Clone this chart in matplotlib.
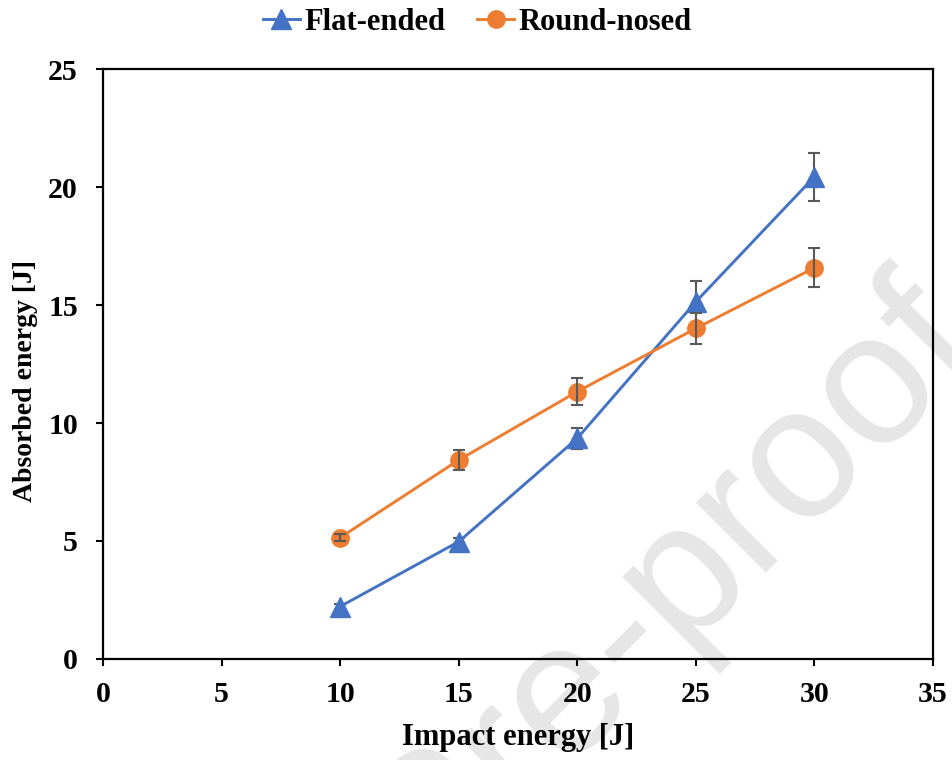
import matplotlib.pyplot as plt

impact = [10, 15, 20, 25, 30]
flat = [2.22, 4.97, 9.35, 15.14, 20.44]
flat_err = [0.1, 0.15, 0.45, 0.9, 1.02]
rnd = [5.14, 8.43, 11.33, 14.01, 16.58]
rnd_err = [0.15, 0.41, 0.56, 0.64, 0.83]

plt.rcParams['font.family'] = ['Liberation Serif', 'DejaVu Serif']
plt.rcParams['font.weight'] = 'bold'

fig = plt.figure(figsize=(9.53, 7.6), dpi=100)
ax = fig.add_axes([0.108, 0.133, 0.871, 0.776])
ax.patch.set_alpha(0)

# watermark behind the plot
fig.text(1.035, 0.536, 'Journal Pre-proof', fontsize=135, color='#e6e6e6',
         family='Liberation Sans', weight='normal', rotation=45,
         rotation_mode='anchor', ha='right', va='baseline', zorder=-1)

blue = '#4472C4'
orange = '#ED7D31'
ecol = '#595959'

ax.errorbar(impact, flat, yerr=flat_err, fmt='none', ecolor=ecol, elinewidth=1.5,
            capsize=4, capthick=1.5, zorder=2)
ax.plot(impact, flat, color=blue, lw=2.1, marker='^', ms=14.5, label='Flat-ended', zorder=3)
ax.errorbar(impact, rnd, yerr=rnd_err, fmt='none', ecolor=ecol, elinewidth=1.5,
            capsize=4, capthick=1.5, zorder=4)
ax.plot(impact, rnd, color=orange, lw=2.1, marker='o', ms=12.5, label='Round-nosed', zorder=3)

ax.set_xlim(0, 35)
ax.set_ylim(0, 25)
ax.set_xticks(range(0, 36, 5))
ax.set_yticks(range(0, 26, 5))
ax.tick_params(axis='both', direction='out', length=5, width=1.5, labelsize=21.5)
ax.tick_params(axis='x', pad=11)
ax.tick_params(axis='y', pad=13)
for s in ax.spines.values():
    s.set_linewidth(1.6)

ax.set_xlabel('Impact energy [J]', fontsize=22, fontweight='bold', va='center')
ax.xaxis.set_label_coords(0.5, -0.134)
ax.set_ylabel('Absorbed energy [J]', fontsize=20, fontweight='bold', va='center')
ax.yaxis.set_label_coords(-0.093, 0.471)

fig.legend(*ax.get_legend_handles_labels(), loc='center',
           bbox_to_anchor=(477.5 / 953, 1 - 22 / 760), ncol=2, frameon=False,
           fontsize=22, handlelength=1.2, handletextpad=0.15, columnspacing=1.05,
           borderaxespad=0)

fig.savefig('out.png', dpi=100)
